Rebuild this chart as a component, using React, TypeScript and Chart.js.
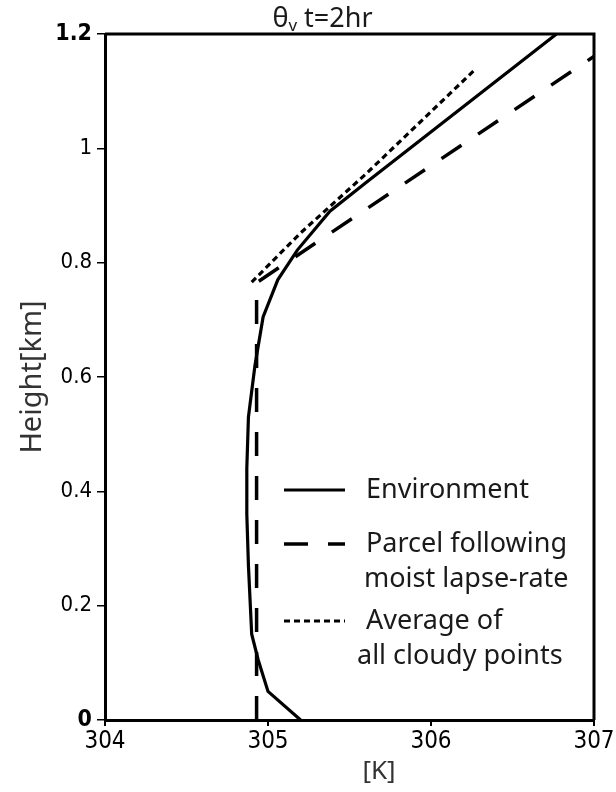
import React, { useEffect, useRef } from "react";
import { Chart, registerables } from "chart.js";

Chart.register(...registerables);

// ---- data ----
const envTemp = [305.2, 305.0, 304.94, 304.9, 304.88, 304.87, 304.87, 304.88, 304.92, 304.97, 305.06, 305.18, 305.38, 305.6, 306.77];
const envHeight = [0, 0.05, 0.105, 0.15, 0.27, 0.36, 0.44, 0.53, 0.62, 0.705, 0.77, 0.822, 0.89, 0.94, 1.2];

const parcelTemp = [304.93, 304.93, 307.1];
const parcelHeight = [0, 0.765, 1.18];

const cloudTemp = [304.9, 305.2, 305.6, 306.26];
const cloudHeight = [0.766, 0.852, 0.955, 1.135];

const xTicks = [304, 305, 306, 307];
const xTickLabels = ["304", "305", "306", "307"];
const yTicks = [0, 0.2, 0.4, 0.6, 0.8, 1, 1.2];
const yTickLabels = ["0", "0.2", "0.4", "0.6", "0.8", "1", "1.2"];
const boldYLabels = ["0", "1.2"];

const legendLines = [
  ["Environment"],
  ["Parcel following", "moist lapse-rate"],
  ["Average of", "all cloudy points"],
];

const TICK_FONT = "'Liberation Sans Narrow', 'DejaVu Sans Condensed', 'Liberation Sans', sans-serif";
const TEXT_FONT = "'Noto Sans', 'Open Sans', sans-serif";

function pts(xs: number[], ys: number[]) {
  return xs.map((x, i) => ({ x, y: ys[i] }));
}

const decorPlugin = {
  id: "decor",
  afterDatasetsDraw(chart: any) {
    const { ctx, chartArea } = chart;
    const { left, right, top, bottom } = chartArea;
    ctx.save();
    // frame (top + right)
    ctx.strokeStyle = "#000";
    ctx.lineWidth = 3;
    ctx.beginPath();
    ctx.moveTo(left, top);
    ctx.lineTo(right, top);
    ctx.lineTo(right, bottom);
    ctx.stroke();

    // legend
    const ds = chart.data.datasets;
    const sx0 = left + 179;
    const sx1 = left + 240;
    const tx = left + 261;
    const rows = [
      { y: bottom - 230, lines: legendLines[0] },
      { y: bottom - 176, lines: legendLines[1] },
      { y: bottom - 99, lines: legendLines[2] },
    ];
    ctx.font = `27px ${TEXT_FONT}`;
    ctx.textBaseline = "middle";
    ctx.textAlign = "left";
    rows.forEach((r, i) => {
      const d = ds[i];
      ctx.strokeStyle = "#000";
      ctx.lineWidth = d.borderWidth;
      ctx.setLineDash(d.borderDash || []);
      ctx.lineCap = "butt";
      ctx.beginPath();
      ctx.moveTo(sx0, r.y);
      ctx.lineTo(sx1, r.y);
      ctx.stroke();
      ctx.setLineDash([]);
      ctx.fillStyle = "#1a1a1a";
      r.lines.forEach((t: string, j: number) => {
        ctx.fillText(t, tx - (j > 0 && i === 2 ? 9 : 0) - (j > 0 && i === 1 ? 2 : 0), r.y + j * 35);
      });
    });

    // title with subscript
    const cx = (left + right) / 2 - 27;
    const ty = 18;
    const big = `27px ${TEXT_FONT}`;
    const small = `17px ${TEXT_FONT}`;
    ctx.fillStyle = "#1a1a1a";
    ctx.font = big;
    const wTheta = ctx.measureText("θ").width;
    const rest = " t=2hr";
    const wRest = ctx.measureText(rest).width;
    ctx.font = small;
    const wV = ctx.measureText("v").width;
    const total = wTheta + wV + wRest;
    let x = cx - total / 2;
    ctx.textAlign = "left";
    ctx.textBaseline = "alphabetic";
    ctx.font = big;
    ctx.fillText("θ", x, ty + 9);
    x += wTheta;
    ctx.font = small;
    ctx.fillText("v", x, ty + 13);
    x += wV;
    ctx.font = big;
    ctx.fillText(rest, x, ty + 9);

    // axis titles
    ctx.textBaseline = "middle";
    ctx.textAlign = "center";
    ctx.fillStyle = "#333";
    ctx.font = `26px ${TEXT_FONT}`;
    ctx.fillText("[K]", left + 274, 772);
    ctx.save();
    ctx.translate(33, (top + bottom) / 2);
    ctx.rotate(-Math.PI / 2);
    ctx.font = `29px ${TEXT_FONT}`;
    ctx.fillText("Height[km]", 0, 0);
    ctx.restore();
    ctx.restore();
  },
};

export default function App() {
  const ref = useRef<HTMLCanvasElement | null>(null);
  useEffect(() => {
    if (!ref.current) return;
    const chart = new Chart(ref.current, {
      type: "scatter",
      data: {
        datasets: [
          {
            label: "Environment",
            data: pts(envTemp, envHeight),
            showLine: true,
            borderColor: "#000",
            borderWidth: 3.2,
            pointRadius: 0,
            tension: 0,
          },
          {
            label: "Parcel following moist lapse-rate",
            data: pts(parcelTemp, parcelHeight),
            showLine: true,
            borderColor: "#000",
            borderWidth: 3.5,
            borderDash: [24, 20],
            pointRadius: 0,
            tension: 0,
          },
          {
            label: "Average of all cloudy points",
            data: pts(cloudTemp, cloudHeight),
            showLine: true,
            borderColor: "#000",
            borderWidth: 3.2,
            borderDash: [6, 4],
            pointRadius: 0,
            tension: 0,
          },
        ] as any,
      },
      options: {
        animation: false,
        responsive: false,
        maintainAspectRatio: false,
        layout: { padding: { left: 0, top: 34, right: 22, bottom: 0 } },
        plugins: {
          legend: { display: false },
          title: { display: false },
          tooltip: { enabled: false },
        },
        scales: {
          x: {
            type: "linear",
            min: 304,
            max: 307,
            afterFit: (s: any) => {
              s.height = 72;
            },
            afterBuildTicks: (s: any) => {
              s.ticks = xTicks.map((v) => ({ value: v }));
            },
            ticks: {
              callback: (_v: any, i: number) => xTickLabels[i],
              color: "#000",
              font: { family: TICK_FONT, size: 24 },
              padding: 1,
              maxRotation: 0,
            },
            grid: {
              drawOnChartArea: false,
              drawTicks: true,
              tickLength: 6,
              color: "#000",
              lineWidth: 2,
            },
            border: { display: true, color: "#000", width: 3 },
          },
          y: {
            type: "linear",
            min: 0,
            max: 1.2,
            afterFit: (s: any) => {
              s.width = 105;
            },
            afterBuildTicks: (s: any) => {
              s.ticks = yTicks.map((v) => ({ value: v }));
            },
            ticks: {
              callback: (_v: any, i: number) => yTickLabels[i],
              color: "#000",
              font: (c: any) => {
                const lbl = yTickLabels[c.index];
                const b = boldYLabels.includes(lbl);
                return { family: TICK_FONT, size: b ? 23 : 22, weight: b ? "bold" : "normal" } as any;
              },
              padding: 5,
            },
            grid: {
              drawOnChartArea: false,
              drawTicks: true,
              tickLength: 8,
              color: "#000",
              lineWidth: 1.5,
            },
            border: { display: true, color: "#000", width: 3 },
          },
        },
      } as any,
      plugins: [decorPlugin],
    });
    return () => chart.destroy();
  }, []);

  return (
    <div style={{ position: "absolute", left: 0, top: 0, width: 616, height: 792, background: "#fff" }}>
      <canvas ref={ref} width={616} height={792} style={{ width: 616, height: 792, display: "block" }} />
    </div>
  );
}
